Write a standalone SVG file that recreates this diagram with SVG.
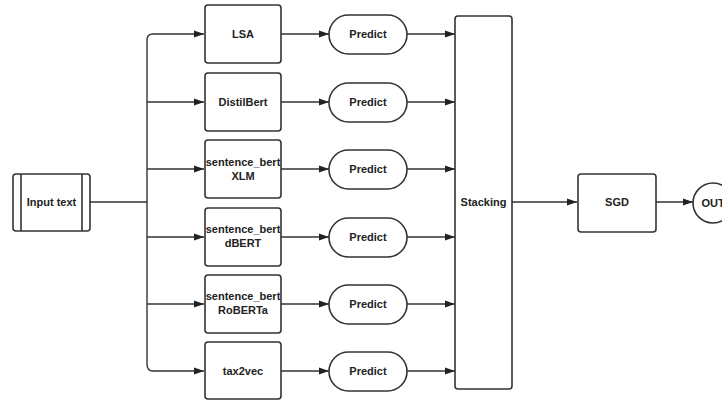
<svg xmlns="http://www.w3.org/2000/svg" width="722" height="401" viewBox="0 0 722 401">
<defs>
<style>
.n{fill:#fff;stroke:#333;stroke-width:1.6}
.c{fill:none;stroke:#333;stroke-width:1.4}
text{font-family:"Liberation Sans",Arial,sans-serif;font-weight:bold;font-size:11px;fill:#222;text-anchor:middle}
</style>
<marker id="a" viewBox="0 0 10 10" refX="10" refY="5" markerWidth="10" markerHeight="10" markerUnits="userSpaceOnUse" orient="auto">
<path d="M0,1.5 L10,5 L0,8.5 Z" fill="#222"/>
</marker>
</defs>
<g id="connectors">
<path class="c" d="M90,202 H147"/>
<path class="c" d="M147,40 V364"/>
<path class="c" d="M147,40 Q147,34 153,34 H204" marker-end="url(#a)"/>
<path class="c" d="M147,102 H204" marker-end="url(#a)"/>
<path class="c" d="M147,169 H204" marker-end="url(#a)"/>
<path class="c" d="M147,237 H204" marker-end="url(#a)"/>
<path class="c" d="M147,304 H204" marker-end="url(#a)"/>
<path class="c" d="M147,364 Q147,371 153,371 H204" marker-end="url(#a)"/>
<path class="c" d="M281,34 H329" marker-end="url(#a)"/>
<path class="c" d="M281,102 H329" marker-end="url(#a)"/>
<path class="c" d="M281,169 H329" marker-end="url(#a)"/>
<path class="c" d="M281,237 H329" marker-end="url(#a)"/>
<path class="c" d="M281,304 H329" marker-end="url(#a)"/>
<path class="c" d="M281,371 H329" marker-end="url(#a)"/>
<path class="c" d="M407,34 H455" marker-end="url(#a)"/>
<path class="c" d="M407,102 H455" marker-end="url(#a)"/>
<path class="c" d="M407,169 H455" marker-end="url(#a)"/>
<path class="c" d="M407,237 H455" marker-end="url(#a)"/>
<path class="c" d="M407,304 H455" marker-end="url(#a)"/>
<path class="c" d="M407,371 H455" marker-end="url(#a)"/>
<path class="c" d="M512,202 H577" marker-end="url(#a)"/>
<path class="c" d="M656,202 H693" marker-end="url(#a)"/>
</g>
<g id="input">
<rect class="n" x="13" y="174" width="77" height="57" rx="3"/>
<path class="c" d="M21,174 V231 M82,174 V231" style="stroke-width:1.6"/>
<text x="51.5" y="206">Input text</text>
</g>
<g id="lsa"><rect class="n" x="205" y="5" width="76" height="58" rx="3"/><text x="243" y="38">LSA</text></g>
<g id="distilbert"><rect class="n" x="205" y="73" width="76" height="58" rx="3"/><text x="243" y="106">DistilBert</text></g>
<g id="xlm"><rect class="n" x="205" y="140" width="76" height="58" rx="3"/><text x="243" y="166">sentence_bert</text><text x="243" y="180">XLM</text></g>
<g id="dbert"><rect class="n" x="205" y="208" width="76" height="58" rx="3"/><text x="243" y="233">sentence_bert</text><text x="243" y="247">dBERT</text></g>
<g id="roberta"><rect class="n" x="205" y="275" width="76" height="58" rx="3"/><text x="243" y="300">sentence_bert</text><text x="243" y="314">RoBERTa</text></g>
<g id="tax2vec"><rect class="n" x="205" y="342" width="76" height="57" rx="3"/><text x="243" y="375">tax2vec</text></g>
<g id="p1"><rect class="n" x="329" y="15" width="78" height="39" rx="19.5"/><text x="368" y="38">Predict</text></g>
<g id="p2"><rect class="n" x="329" y="83" width="78" height="39" rx="19.5"/><text x="368" y="106">Predict</text></g>
<g id="p3"><rect class="n" x="329" y="150" width="78" height="39" rx="19.5"/><text x="368" y="173">Predict</text></g>
<g id="p4"><rect class="n" x="329" y="218" width="78" height="39" rx="19.5"/><text x="368" y="241">Predict</text></g>
<g id="p5"><rect class="n" x="329" y="285" width="78" height="39" rx="19.5"/><text x="368" y="308">Predict</text></g>
<g id="p6"><rect class="n" x="329" y="352" width="78" height="39" rx="19.5"/><text x="368" y="375">Predict</text></g>
<g id="stacking"><rect class="n" x="455" y="16" width="57" height="373" rx="3"/><text x="483.5" y="206">Stacking</text></g>
<g id="sgd"><rect class="n" x="578" y="174" width="78" height="58" rx="3"/><text x="617" y="206">SGD</text></g>
<g id="out"><circle class="n" cx="713" cy="203" r="20"/><text x="713" y="207">OUT</text></g>
</svg>
